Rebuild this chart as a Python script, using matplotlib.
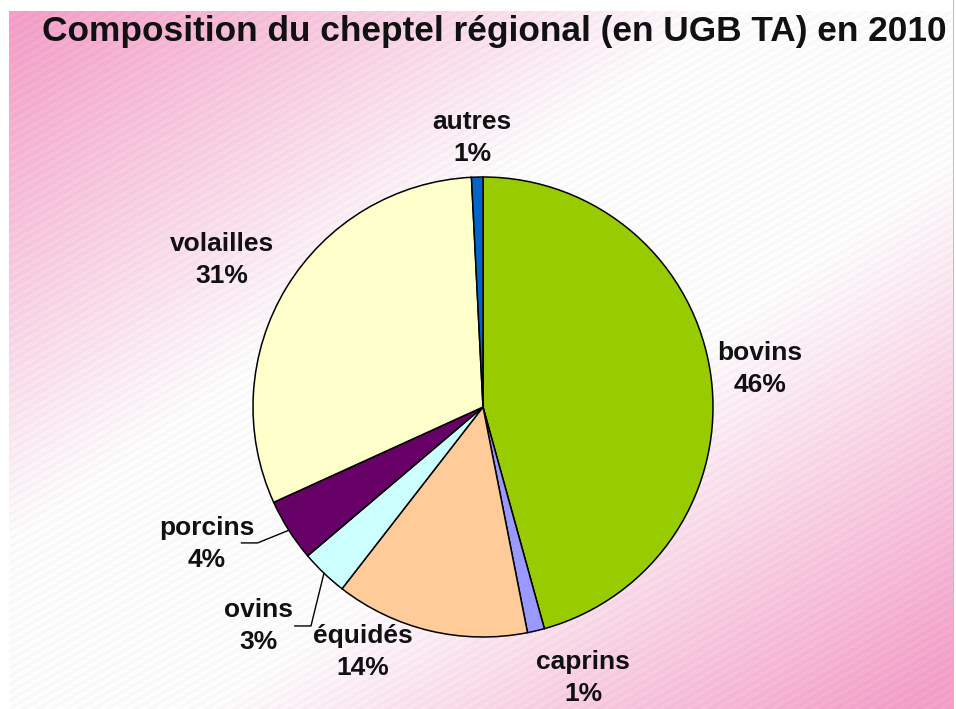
import numpy as np
import matplotlib
matplotlib.use("Agg")
import matplotlib.pyplot as plt

# ---- data ----
categories = ["bovins", "caprins", "équidés", "ovins", "porcins", "volailles", "autres"]
values = [45.7, 1.2, 13.6, 3.3, 4.4, 31.0, 0.8]
colors = ["#99CC00", "#9999FF", "#FFCC99", "#CCFFFF", "#660066", "#FFFFCC", "#0066CC"]
title = "Composition du cheptel régional (en UGB TA) en 2010"

# ---- layout (label positions in pie-radius units) ----
label_pos = {
    "bovins": (1.204, 0.165),
    "caprins": (0.435, -1.178),
    "équidés": (-0.522, -1.065),
    "ovins": (-0.978, -0.952),
    "porcins": (-1.20, -0.596),
    "volailles": (-1.135, 0.639),
    "autres": (-0.048, 1.17),
}
leaders = {"porcins": (-0.980, -0.591), "ovins": (-0.748, -0.952)}

W, H, DPI = 956, 709, 100
fig = plt.figure(figsize=(W / DPI, H / DPI), dpi=DPI)
fig.patch.set_facecolor("white")

# background gradient with faint diagonal stripes
bg_ax = fig.add_axes([0, 0, 1, 1])
bg_ax.set_axis_off()
yy, xx = np.mgrid[0:H, 0:W].astype(float)
t = (xx / W + yy / H) - 1.0
inten = np.clip((np.abs(t) - 0.22) / 0.72, 0, 1) ** 1.0
pink = np.array([246, 164, 203]) / 255.0
white = np.array([1.0, 1.0, 1.0])
img = white[None, None, :] * (1 - inten[..., None]) + pink[None, None, :] * inten[..., None]
stripe = 0.5 + 0.5 * np.sin(2 * np.pi * (xx * 0.5 + yy * 0.866) / 7.0)
img = img - 0.025 * stripe[..., None]
img = np.clip(img, 0, 1)
# white frame at top/left
img[:11, :, :] = 1.0
img[:, :9, :] = 1.0
img[:, W - 3:W - 2, :] = 0.75
img[:, W - 2:, :] = 1.0
bg_ax.imshow(img, extent=[0, W, H, 0], aspect="auto", interpolation="bilinear")
bg_ax.set_xlim(0, W)
bg_ax.set_ylim(H, 0)

# pie axes: centre (483, 407) px, radius 230 px
cx, cy, r = 483, 407, 230
ax = fig.add_axes([(cx - r) / W, (H - cy - r) / H, 2 * r / W, 2 * r / H])
wedges, _ = ax.pie(values, colors=colors, startangle=90, counterclock=False,
                   radius=1.0, wedgeprops=dict(edgecolor="black", linewidth=1.1))
ax.set_xlim(-1, 1)
ax.set_ylim(-1, 1)
ax.set_aspect("equal")
ax.set_axis_off()

font = dict(family="Liberation Sans", weight="bold", size=19, color="#111111")
total = sum(values)
for cat, val, w in zip(categories, values, wedges):
    lx, ly = label_pos[cat]
    ax.text(lx, ly, f"{cat}\n{round(val / total * 100):d}%", ha="center", va="center",
            linespacing=1.42, clip_on=False, **font)
    if cat in leaders:
        mid = np.deg2rad((w.theta1 + w.theta2) / 2)
        ex, ey = np.cos(mid), np.sin(mid)
        kx, ky = leaders[cat]
        ax.plot([ex, kx, kx - 0.07], [ey, ky, ky], color="black", lw=1.0, clip_on=False)

fig.text(494 / W, 1 - 31 / H, title, ha="center", va="center",
         family="Liberation Sans", weight="bold", size=25.4, color="#111111")

fig.savefig("out.png", dpi=DPI)
